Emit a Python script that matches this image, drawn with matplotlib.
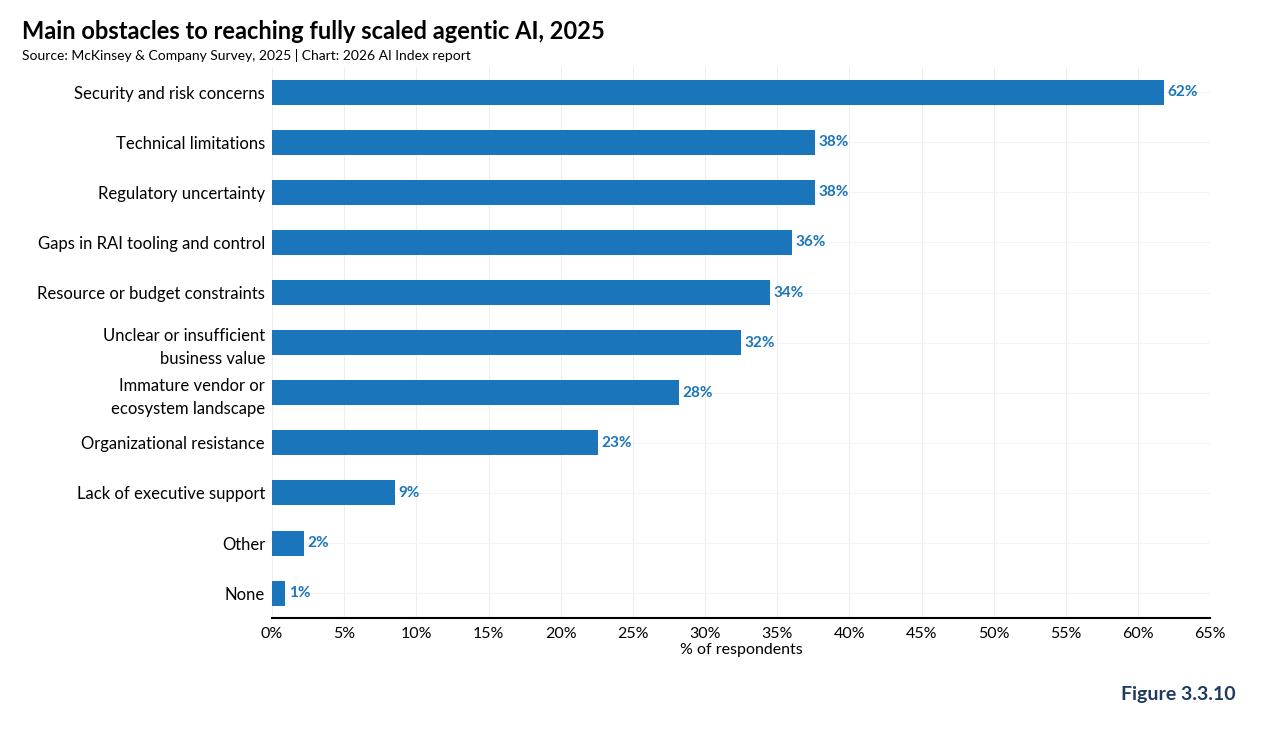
import matplotlib.pyplot as plt

plt.rcParams['font.family'] = ['Lato', 'DejaVu Sans']

categories = [
    "Security and risk concerns", "Technical limitations", "Regulatory uncertainty",
    "Gaps in RAI tooling and control", "Resource or budget constraints",
    "Unclear or insufficient\nbusiness value", "Immature vendor or\necosystem landscape",
    "Organizational resistance", "Lack of executive support", "Other", "None",
]
values = [61.8, 37.6, 37.6, 36.0, 34.5, 32.5, 28.2, 22.6, 8.5, 2.2, 0.9]
labels = ["62%", "38%", "38%", "36%", "34%", "32%", "28%", "23%", "9%", "2%", "1%"]
ticks = list(range(0, 70, 5))

color = "#1b75bb"
fig = plt.figure(figsize=(12.8, 7.29), dpi=100)
ax = fig.add_axes([0.2125, 0.152, 0.733, 0.756])

y = list(range(len(categories)))
ax.barh(y, values, height=0.5, color=color, zorder=3)
for yi, v, lab in zip(y, values, labels):
    ax.text(v + 0.25, yi, lab, va="center", ha="left", color=color,
            fontsize=11, fontweight="bold")

ax.set_yticks(y)
ax.set_yticklabels(categories, fontsize=12, linespacing=1.5)
ax.invert_yaxis()
ax.set_ylim(len(categories) - 0.5, -0.5)
ax.set_xlim(0, 65)
ax.set_xticks(ticks)
ax.set_xticklabels([f"{t}%" for t in ticks], fontsize=11.5)
ax.set_xlabel("% of respondents", fontsize=11.5, labelpad=2)
ax.grid(axis="x", color="#eeeeee", linewidth=0.8, zorder=0)
ax.grid(axis="y", color="#f4f4f4", linewidth=0.8, zorder=0)
for s in ["top", "right", "left"]:
    ax.spines[s].set_visible(False)
ax.spines["bottom"].set_linewidth(1.5)
ax.tick_params(axis="y", length=0, pad=5)
ax.tick_params(axis="x", length=0, pad=6)

fig.text(0.017, 0.957, "Main obstacles to reaching fully scaled agentic AI, 2025",
         fontsize=17, fontweight="bold", va="center")
fig.text(0.017, 0.924, "Source: McKinsey & Company Survey, 2025 | Chart: 2026 AI Index report",
         fontsize=10, va="center")
fig.text(0.965, 0.048, "Figure 3.3.10", fontsize=14, fontweight="bold",
         color="#1f3a60", ha="right", va="center")

fig.savefig("out.png", dpi=100)
